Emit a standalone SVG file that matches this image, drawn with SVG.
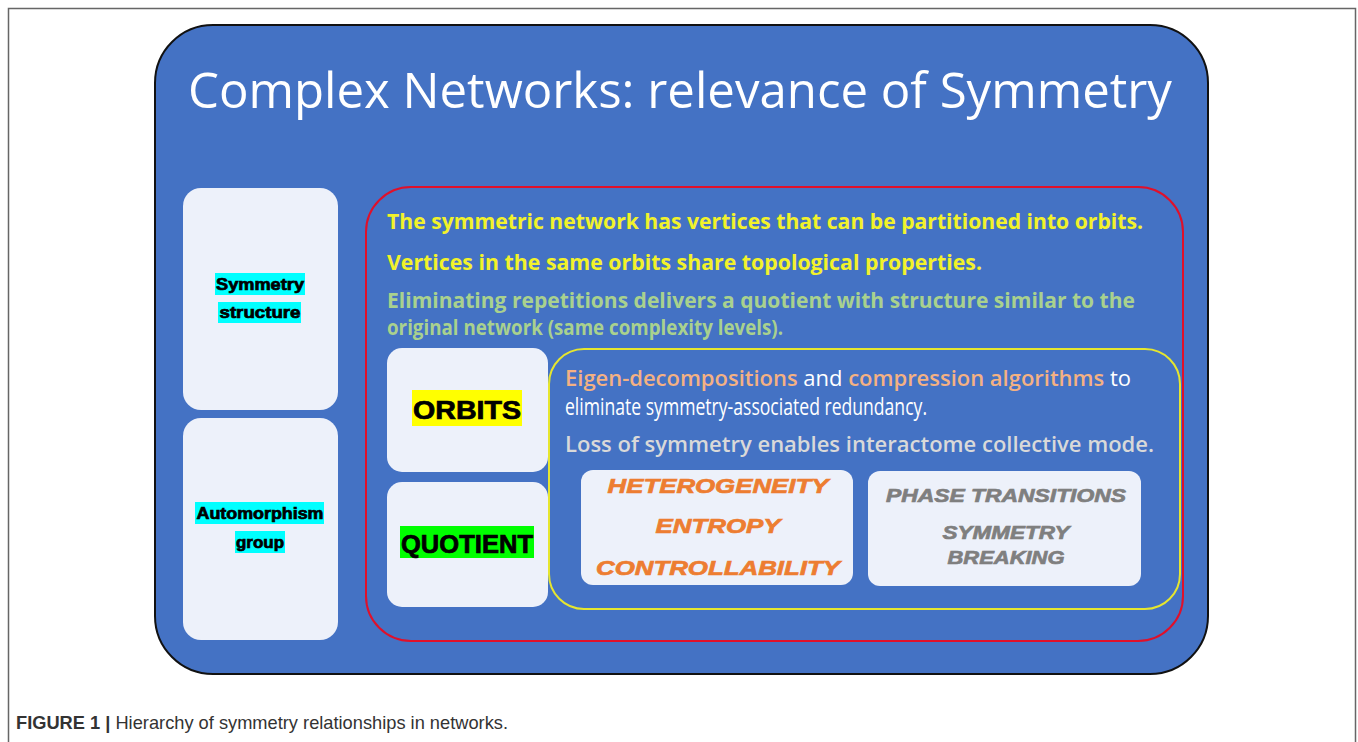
<svg xmlns="http://www.w3.org/2000/svg" width="1358" height="742" viewBox="0 0 1358 742">
<style>
.box{fill:#edf1fa;stroke:none}
.cal{font-family:"Open Sans","Noto Sans","Liberation Sans",sans-serif}
.blk{font-family:"Liberation Sans",Arial,sans-serif;font-weight:bold;fill:#000;stroke:#000;stroke-width:0.7}
.ital{font-family:"Liberation Sans",Arial,sans-serif;font-weight:bold;font-style:italic;stroke-width:0.7}
</style>
<rect x="0" y="0" width="1358" height="742" fill="#fff"/>
<path d="M8.5 742 V8.5 H1355.5 V742" fill="none" stroke="#666" stroke-width="1.5"/>
<g id="frame">
<rect x="155" y="25" width="1053" height="649" rx="58" ry="58" fill="#4472c4" stroke="#111" stroke-width="2"/>
<text class="cal" x="680" y="108" text-anchor="middle" font-size="49" fill="#fff" textLength="984" lengthAdjust="spacingAndGlyphs">Complex Networks: relevance of Symmetry</text>
</g>
<g id="symmetry-structure">
<rect class="box" x="183" y="188" width="155" height="222" rx="18"/>
<rect x="215" y="273" width="90" height="22" fill="#00ffff"/>
<rect x="218" y="302" width="83" height="21" fill="#00ffff"/>
<text class="blk" x="260" y="290" text-anchor="middle" font-size="16" textLength="88" lengthAdjust="spacingAndGlyphs">Symmetry</text>
<text class="blk" x="260" y="318" text-anchor="middle" font-size="16" textLength="81" lengthAdjust="spacingAndGlyphs">structure</text>
</g>
<g id="automorphism-group">
<rect class="box" x="183" y="418" width="155" height="222" rx="18"/>
<rect x="195" y="502" width="129" height="22" fill="#00ffff"/>
<rect x="235" y="531" width="50" height="22" fill="#00ffff"/>
<text class="blk" x="260" y="519" text-anchor="middle" font-size="16" textLength="127" lengthAdjust="spacingAndGlyphs">Automorphism</text>
<text class="blk" x="260" y="548" text-anchor="middle" font-size="16" textLength="48" lengthAdjust="spacingAndGlyphs">group</text>
</g>
<g id="orbits-region">
<rect x="366" y="187" width="817" height="454" rx="45" fill="none" stroke="#e0102a" stroke-width="2"/>
<text class="cal" x="387" y="229" font-size="22" font-weight="bold" fill="#f2f22a" textLength="756" lengthAdjust="spacingAndGlyphs">The symmetric network has vertices that can be partitioned into orbits.</text>
<text class="cal" x="387" y="270" font-size="22" font-weight="bold" fill="#f2f22a" textLength="595" lengthAdjust="spacingAndGlyphs">Vertices in the same orbits share topological properties.</text>
<text class="cal" x="387" y="308" font-size="22" font-weight="bold" fill="#a9d18e" textLength="748" lengthAdjust="spacingAndGlyphs">Eliminating repetitions delivers a quotient with structure similar to the</text>
<text class="cal" x="387" y="335" font-size="22" font-weight="bold" fill="#a9d18e" textLength="396" lengthAdjust="spacingAndGlyphs">original network (same complexity levels).</text>
</g>
<g id="orbits">
<rect class="box" x="387" y="348" width="161" height="124" rx="15"/>
<rect x="412" y="390" width="110" height="36" fill="#ffff00"/>
<text class="blk" x="467" y="419" text-anchor="middle" font-size="25" textLength="108" lengthAdjust="spacingAndGlyphs">ORBITS</text>
</g>
<g id="quotient">
<rect class="box" x="387" y="482" width="161" height="125" rx="15"/>
<rect x="400" y="526" width="134" height="32" fill="#00ff00"/>
<text class="blk" x="467" y="553" text-anchor="middle" font-size="25" textLength="132" lengthAdjust="spacingAndGlyphs">QUOTIENT</text>
</g>
<g id="compression-region">
<rect x="549" y="349" width="631" height="260" rx="35" fill="none" stroke="#e6e62e" stroke-width="2"/>
<text class="cal" x="565" y="386" font-size="22" fill="#fff" textLength="566" lengthAdjust="spacingAndGlyphs"><tspan fill="#f4b183" font-weight="600">Eigen-decompositions</tspan> and <tspan fill="#f4b183" font-weight="600">compression algorithms</tspan> to</text>
<text class="cal" x="565" y="415" font-size="23" fill="#fff" textLength="362" lengthAdjust="spacingAndGlyphs">eliminate symmetry-associated redundancy.</text>
<text class="cal" x="565" y="452" font-size="22" font-weight="600" fill="#d9d9d9" textLength="589" lengthAdjust="spacingAndGlyphs">Loss of symmetry enables interactome collective mode.</text>
</g>
<g id="properties">
<rect class="box" x="581" y="470" width="272" height="115" rx="12"/>
<text class="ital" x="718" y="493" text-anchor="middle" font-size="21" fill="#ed7d31" stroke="#ed7d31" textLength="221" lengthAdjust="spacingAndGlyphs">HETEROGENEITY</text>
<text class="ital" x="718" y="533" text-anchor="middle" font-size="21" fill="#ed7d31" stroke="#ed7d31" textLength="125" lengthAdjust="spacingAndGlyphs">ENTROPY</text>
<text class="ital" x="718" y="575" text-anchor="middle" font-size="21" fill="#ed7d31" stroke="#ed7d31" textLength="244" lengthAdjust="spacingAndGlyphs">CONTROLLABILITY</text>
</g>
<g id="transitions">
<rect class="box" x="868" y="471" width="273" height="115" rx="12"/>
<text class="ital" x="1006" y="502" text-anchor="middle" font-size="19" fill="#7f7f7f" stroke="#7f7f7f" textLength="240" lengthAdjust="spacingAndGlyphs">PHASE TRANSITIONS</text>
<text class="ital" x="1006" y="539" text-anchor="middle" font-size="19" fill="#7f7f7f" stroke="#7f7f7f" textLength="127" lengthAdjust="spacingAndGlyphs">SYMMETRY</text>
<text class="ital" x="1006" y="564" text-anchor="middle" font-size="19" fill="#7f7f7f" stroke="#7f7f7f" textLength="117" lengthAdjust="spacingAndGlyphs">BREAKING</text>
</g>
<g id="connectors"></g>
<text x="16" y="729" font-family="Liberation Sans, Arial, sans-serif" font-size="19" fill="#333" textLength="492" lengthAdjust="spacingAndGlyphs"><tspan font-weight="bold">FIGURE 1 |</tspan> Hierarchy of symmetry relationships in networks.</text>
</svg>
